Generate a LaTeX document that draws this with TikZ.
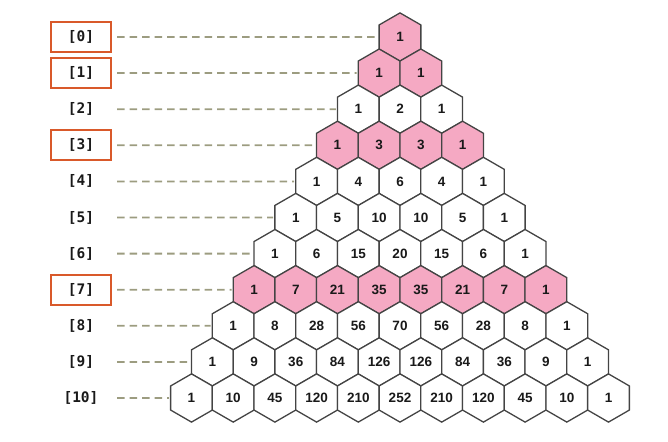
\documentclass[tikz,border=0pt]{standalone}
\usepackage{fontspec}
\setmainfont{Liberation Sans}
\newfontfamily\labfont{DejaVu Sans Mono}
\usetikzlibrary{shapes.geometric}
\definecolor{hexpink}{HTML}{F5A9C3}
\definecolor{hexline}{HTML}{444444}
\definecolor{dashcol}{HTML}{9C9C80}
\definecolor{boxcol}{HTML}{D9592A}
\begin{document}
\begin{tikzpicture}[x=1pt,y=-1pt,
  hexcell/.style={regular polygon, regular polygon sides=6, shape border rotate=30,
    minimum size=48.2pt, inner sep=0pt, draw=hexline, line width=1.3pt,
    font=\bfseries\fontsize{13.5}{13.5}\selectfont, text=black!90},
  rowlab/.style={font=\labfont\bfseries\fontsize{14.5}{14.5}\selectfont, text=black!90,
    inner sep=0pt, minimum width=60pt, minimum height=30pt, line width=1.8pt},
  guide/.style={dashcol, line width=1.8pt, dash pattern=on 7.5pt off 5pt, shorten >=1pt}]
\useasboundingbox (0,0) rectangle (668,441);
\foreach \r/\fc/\bc/\vals in {
  0/hexpink/boxcol/{1},
  1/hexpink/boxcol/{1,1},
  2/white/none/{1,2,1},
  3/hexpink/boxcol/{1,3,3,1},
  4/white/none/{1,4,6,4,1},
  5/white/none/{1,5,10,10,5,1},
  6/white/none/{1,6,15,20,15,6,1},
  7/hexpink/boxcol/{1,7,21,35,35,21,7,1},
  8/white/none/{1,8,28,56,70,56,28,8,1},
  9/white/none/{1,9,36,84,126,126,84,36,9,1},
  10/white/none/{1,10,45,120,210,252,210,120,45,10,1}} {
  \pgfmathsetmacro\y{37+\r*36.1}
  \node[rowlab, draw=\bc] (lab-\r) at (81,\y) {[\r]};
  \coordinate (ds-\r) at (117,\y);
  \foreach \v [count=\k from 0] in \vals {
    \pgfmathsetmacro\x{400+(\k-\r/2)*41.7}
    \node[hexcell, fill=\fc] (c-\r-\k) at (\x,\y) {\v};
  }
  \draw[guide] (ds-\r) -- (c-\r-0.west);
}
\end{tikzpicture}
\end{document}
